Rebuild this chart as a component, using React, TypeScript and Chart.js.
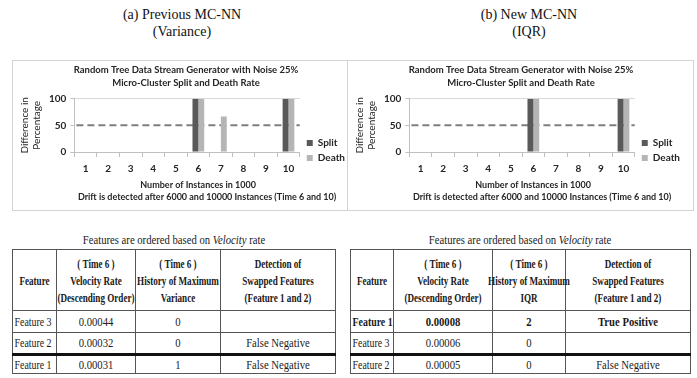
import React, { useEffect, useRef } from "react";
import { Chart, registerables } from "chart.js";

Chart.register(...registerables);

// ---------- chart data ----------
const instanceLabels = ["1", "2", "3", "4", "5", "6", "7", "8", "9", "10"];
const splitVariance = [0, 0, 0, 0, 0, 100, 0, 0, 0, 100];
const deathVariance = [0, 0, 0, 0, 0, 100, 66.7, 0, 0, 100];
const splitIqr = [0, 0, 0, 0, 0, 100, 0, 0, 0, 100];
const deathIqr = [0, 0, 0, 0, 0, 100, 0, 0, 0, 100];
const thresholdPercent = 50;
const yMin = 0;
const yMax = 100;
const yStep = 50;
const seriesNames = ["Split", "Death"];
const chartTitleLines = [
  "Random Tree Data Stream Generator with Noise 25%",
  "Micro-Cluster Split and Death Rate",
];
const xTitleLines = [
  "Number of Instances in 1000",
  "Drift is detected after 6000 and 10000 Instances (Time 6 and 10)",
];
const yTitleLines = ["Difference in", "Percentage"];

// ---------- captions ----------
const captionVariance = ["(a) Previous MC-NN", "(Variance)"];
const captionIqr = ["(b) New MC-NN", "(IQR)"];

// ---------- table data ----------
const headersVariance = [
  ["Feature"],
  ["( Time 6 )", "Velocity Rate", "(Descending Order)"],
  ["( Time 6 )", "History of Maximum", "Variance"],
  ["Detection of", "Swapped Features", "(Feature 1 and 2)"],
];
const headersIqr = [
  ["Feature"],
  ["( Time 6 )", "Velocity Rate", "(Descending Order)"],
  ["( Time 6 )", "History of Maximum", "IQR"],
  ["Detection of", "Swapped Features", "(Feature 1 and 2)"],
];
const featuresVariance = ["Feature 3", "Feature 2", "Feature 1"];
const velocityVariance = ["0.00044", "0.00032", "0.00031"];
const historyVariance = ["0", "0", "1"];
const detectionVariance = ["", "False Negative", "False Negative"];

const featuresIqr = ["Feature 1", "Feature 3", "Feature 2"];
const velocityIqr = ["0.00008", "0.00006", "0.00005"];
const historyIqr = ["2", "0", "0"];
const detectionIqr = ["True Positive", "", "False Negative"];
const boldRowIqr = 0;

const INK = "#262626";
const SANS = "Lato, 'Liberation Sans', sans-serif";
const SERIF = "'Liberation Serif', 'Times New Roman', serif";

// layout tweaks (pixels) for text drawn around the plot
const X_TITLE_DX = [11, 20];
const X_TITLE_DY = [33, 45.5];
const LEGEND_DX = 2;
const LEGEND_DY = 28;

const excelLook = {
  id: "excelLook",
  afterLayout(chart: any) {
    const lg = chart.legend;
    if (lg) {
      lg.left += LEGEND_DX;
      lg.right += LEGEND_DX;
      lg.top += LEGEND_DY;
      lg.bottom += LEGEND_DY;
    }
  },
  beforeDatasetsDraw(chart: any) {
    // dashed 50% threshold line across the plot, placed through the y scale
    const ctx = chart.ctx;
    const a = chart.chartArea;
    const y = chart.scales.y.getPixelForValue(thresholdPercent);
    ctx.save();
    ctx.strokeStyle = "#7f7f7f";
    ctx.lineWidth = 2;
    ctx.setLineDash([7, 4]);
    ctx.beginPath();
    ctx.moveTo(a.left + 2, y);
    ctx.lineTo(a.right, y);
    ctx.stroke();
    ctx.restore();
  },
  afterDraw(chart: any) {
    const ctx = chart.ctx;
    const a = chart.chartArea;
    const cx = (a.left + a.right) / 2;
    ctx.save();
    ctx.font = `bold 9px ${SANS}`;
    ctx.fillStyle = INK;
    ctx.textAlign = "center";
    ctx.textBaseline = "middle";
    xTitleLines.forEach((t, i) => ctx.fillText(t, cx + X_TITLE_DX[i], a.bottom + X_TITLE_DY[i]));
    ctx.restore();
  },
};

function DriftChart(props: { split: number[]; death: number[]; width: number; height: number; rightPad: number }) {
  const ref = useRef<HTMLCanvasElement | null>(null);
  useEffect(() => {
    const chart = new Chart(ref.current as HTMLCanvasElement, {
      type: "bar",
      plugins: [excelLook],
      data: {
        labels: instanceLabels,
        datasets: [
          {
            label: seriesNames[0],
            data: props.split,
            backgroundColor: "#595959",
            barPercentage: 1,
            categoryPercentage: 0.52,
          },
          {
            label: seriesNames[1],
            data: props.death,
            backgroundColor: "#b5b5b5",
            barPercentage: 1,
            categoryPercentage: 0.52,
          },
        ],
      },
      options: {
        animation: false,
        responsive: false,
        maintainAspectRatio: false,
        layout: { padding: { left: 6, right: props.rightPad, top: 3, bottom: 29 } },
        plugins: {
          title: {
            display: true,
            text: chartTitleLines,
            color: INK,
            font: { family: SANS, size: 9.5, weight: "bold", lineHeight: 1.3 },
            padding: { top: 0, bottom: 10 },
          },
          legend: {
            position: "right",
            align: "center",
            labels: {
              boxWidth: 6,
              boxHeight: 6,
              color: INK,
              font: { family: SANS, size: 10, weight: "bold" },
              padding: 5,
            },
          },
          tooltip: { enabled: false },
        },
        scales: {
          x: {
            type: "category",
            offset: true,
            grid: {
              offset: true,
              drawOnChartArea: false,
              drawTicks: true,
              tickLength: 5,
              color: "#bfbfbf",
            },
            border: { display: true, color: "#bfbfbf" },
            ticks: {
              color: INK,
              font: { family: SANS, size: 10, weight: "bold" },
              padding: 6,
              maxRotation: 0,
              autoSkip: false,
            },
          },
          y: {
            min: yMin,
            max: yMax,
            ticks: {
              stepSize: yStep,
              color: INK,
              font: { family: SANS, size: 10, weight: "bold" },
              padding: 4,
            },
            grid: {
              color: (c: any) => (c.tick && c.tick.value === thresholdPercent ? "rgba(0,0,0,0)" : "#d9d9d9"),
              tickColor: "#bfbfbf",
              tickLength: 4,
            },
            border: { color: "#bfbfbf" },
            title: {
              display: true,
              text: yTitleLines,
              color: INK,
              font: { family: SANS, size: 10, lineHeight: 1.2 },
              padding: { top: 0, bottom: 2 },
            },
          },
        } as any,
      },
    });
    return () => chart.destroy();
  }, []);
  return (
    <canvas
      ref={ref}
      width={props.width}
      height={props.height}
      style={{ display: "block", width: props.width, height: props.height }}
    />
  );
}

function Caption(props: { lines: string[]; center: number; top: number }) {
  return (
    <div
      style={{
        position: "absolute",
        left: props.center - 120,
        top: props.top,
        width: 240,
        textAlign: "center",
        fontFamily: SERIF,
        fontSize: 14,
        lineHeight: "17px",
        color: "#111",
      }}
    >
      {props.lines.map((l, i) => (
        <div key={i}>{l}</div>
      ))}
    </div>
  );
}

function Squeezed(props: { lines: React.ReactNode[]; scale: number; align: "center" | "left"; bold?: boolean; size: number; lh: number }) {
  return (
    <div
      style={{
        display: "flex",
        flexDirection: "column",
        alignItems: props.align === "center" ? "center" : "flex-start",
        transform: `scaleX(${props.scale})`,
        transformOrigin: props.align === "center" ? "50% 50%" : "0 50%",
        fontWeight: props.bold ? "bold" : "normal",
        fontSize: props.size,
        lineHeight: `${props.lh}px`,
        whiteSpace: "nowrap",
        paddingLeft: props.align === "left" ? 2 : 0,
      }}
    >
      {props.lines.map((l, i) => (
        <span key={i}>{l}</span>
      ))}
    </div>
  );
}

function FeatureTable(props: {
  left: number;
  top: number;
  colWidths: number[];
  headers: string[][];
  features: string[];
  velocity: string[];
  history: string[];
  detection: string[];
  boldRow: number;
}) {
  const total = props.colWidths.reduce((a, b) => a + b, 0);
  const line = "1px solid #555";
  const titleCenter = props.left + total / 2;
  const rowHeights = [22, 22, 19];
  return (
    <>
      <div
        style={{
          position: "absolute",
          left: titleCenter - 150,
          top: 231,
          width: 300,
          fontFamily: SERIF,
          color: "#1a1a1a",
        }}
      >
        <Squeezed
          lines={[
            <>
              Features are ordered based on <i>Velocity</i> rate
            </>,
          ]}
          scale={0.82}
          align="center"
          size={13}
          lh={17}
        />
      </div>
      <table
        style={{
          position: "absolute",
          left: props.left,
          top: props.top,
          width: total,
          borderCollapse: "collapse",
          tableLayout: "fixed",
          fontFamily: SERIF,
          color: "#1a1a1a",
          border: line,
        }}
      >
        <colgroup>
          {props.colWidths.map((w, i) => (
            <col key={i} style={{ width: w }} />
          ))}
        </colgroup>
        <tbody>
          <tr style={{ height: 61 }}>
            {props.headers.map((h, i) => (
              <td key={i} style={{ border: line, padding: 0, verticalAlign: "middle" }}>
                <Squeezed lines={h} scale={0.7} align="center" bold size={13} lh={17} />
              </td>
            ))}
          </tr>
          {props.features.map((f, r) => {
            const cells = [f, props.velocity[r], props.history[r], props.detection[r]];
            const rowTop = r === 2 ? "3px solid #111" : line;
            return (
              <tr key={r} style={{ height: rowHeights[r] }}>
                {cells.map((c, i) => (
                  <td
                    key={i}
                    style={{
                      border: line,
                      borderTop: rowTop,
                      padding: 0,
                      verticalAlign: "middle",
                    }}
                  >
                    <Squeezed
                      lines={[c || "\u00a0"]}
                      scale={i === 0 ? 0.76 : 0.82}
                      align={i === 0 ? "left" : "center"}
                      bold={r === props.boldRow}
                      size={13}
                      lh={16}
                    />
                  </td>
                ))}
              </tr>
            );
          })}
        </tbody>
      </table>
    </>
  );
}

export default function App() {
  return (
    <div
      style={{
        position: "absolute",
        left: 0,
        top: 0,
        width: 697,
        height: 378,
        background: "#fff",
        overflow: "hidden",
      }}
    >
      <Caption lines={captionVariance} center={182} top={6} />
      <Caption lines={captionIqr} center={529} top={6} />

      <div style={{ position: "absolute", left: 12, top: 60, border: "1px solid #d4d4d4" }}>
        <DriftChart split={splitVariance} death={deathVariance} width={334} height={149} rightPad={-6} />
      </div>
      <div style={{ position: "absolute", left: 347, top: 60, border: "1px solid #d4d4d4" }}>
        <DriftChart split={splitIqr} death={deathIqr} width={345} height={149} rightPad={5} />
      </div>

      <FeatureTable
        left={12}
        top={249}
        colWidths={[44, 79, 85, 115]}
        headers={headersVariance}
        features={featuresVariance}
        velocity={velocityVariance}
        history={historyVariance}
        detection={detectionVariance}
        boldRow={-1}
      />
      <FeatureTable
        left={350}
        top={249}
        colWidths={[43, 99, 73, 125]}
        headers={headersIqr}
        features={featuresIqr}
        velocity={velocityIqr}
        history={historyIqr}
        detection={detectionIqr}
        boldRow={boldRowIqr}
      />
    </div>
  );
}
